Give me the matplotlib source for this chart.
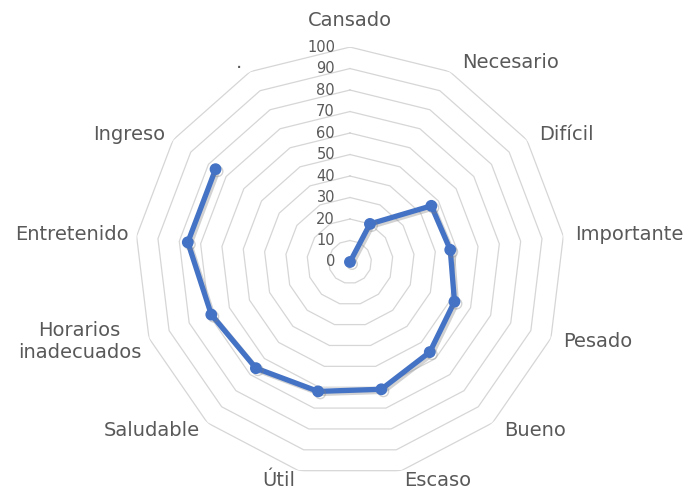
import numpy as np
import matplotlib.pyplot as plt
import matplotlib.patheffects as pe

# categories clockwise from top (last one is the unlabeled "." spoke)
categories = ['Cansado', 'Necesario', 'Difícil', 'Importante', 'Pesado', 'Bueno',
              'Escaso', 'Útil', 'Saludable', 'Horarios\ninadecuados', 'Entretenido',
              'Ingreso', '.']
values = [0, 20, 46, 47, 52, 56, 61, 62, 66, 69, 76, 76, np.nan]
ring_levels = [0, 10, 20, 30, 40, 50, 60, 70, 80, 90, 100]

n = len(categories)
angles = np.arange(n) * 2 * np.pi / n
px = 0.72  # points per pixel at dpi 100

fig = plt.figure(figsize=(6.9, 4.92), dpi=100)
ax = fig.add_axes([0.1957, 0.0305, 0.623, 0.874], projection='polar')
ax.set_theta_zero_location('N')
ax.set_theta_direction(-1)
ax.set_ylim(0, 100)
ax.grid(False)
ax.spines['polar'].set_visible(False)
ax.set_xticks([])
ax.set_yticks([])
ax.patch.set_alpha(0)

# polygon rings
ring_angles = np.append(angles, angles[0])
for lv in ring_levels[1:]:
    ax.plot(ring_angles, [lv] * len(ring_angles), color='#d6d6d6', lw=0.9, zorder=1)

# value labels along the top spoke
for lv in ring_levels:
    ax.annotate(str(lv), xy=(0, lv), xytext=(-15 * px, 0), textcoords='offset points',
                ha='right', va='center', fontsize=10.5, color='#595959', zorder=2)

# category labels
for ang, lab in zip(angles, categories):
    s, c = np.sin(ang), np.cos(ang)
    if abs(s) < 0.1:
        ha = 'center'
    elif s > 0:
        ha = 'left'
    else:
        ha = 'right'
    if abs(s) > 0.3:
        dx = 12 if s > 0 else -8
    else:
        dx = 3 * np.sign(s)
    dy = 10 * c
    va = 'center'
    if lab == 'Cansado':
        va, dy = 'bottom', 17
    ax.annotate(lab, xy=(ang, 100), xytext=(dx * px, dy * px), textcoords='offset points',
                ha=ha, va=va, fontsize=14, color='#595959', multialignment='center')

# data series
ax.plot(angles, values, color='#4472c4', lw=3.8, marker='o', ms=7.5,
        solid_capstyle='round', solid_joinstyle='round', zorder=5,
        path_effects=[pe.SimpleLineShadow(offset=(1.5, -1.5), shadow_color='gray', alpha=0.35),
                      pe.Normal()])

fig.savefig('out.png', dpi=100)
